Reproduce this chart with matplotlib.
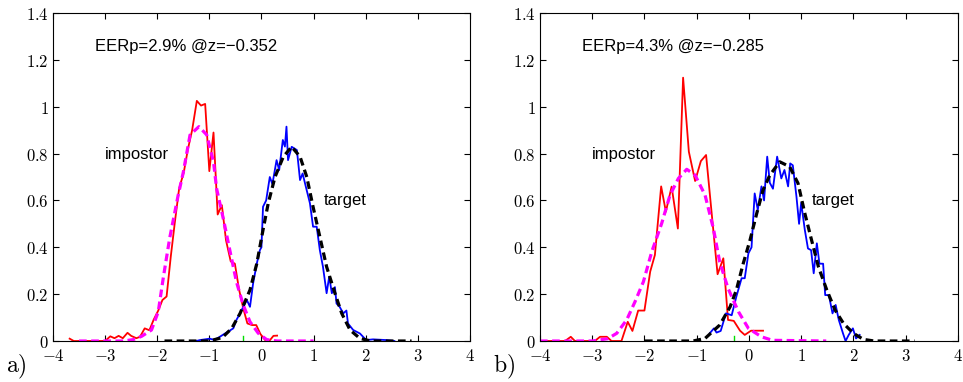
import matplotlib
matplotlib.use('Agg')
import matplotlib.pyplot as plt
from matplotlib.ticker import FuncFormatter

# ---- panel a) ----
A_IMP_X = [-3.68, -3.60, -3.0, -2.90, -2.82, -2.74, -2.66, -2.57, -2.50, -2.40, -2.33, -2.24, -2.15,
           -2.07, -1.98, -1.90, -1.82, -1.74, -1.66, -1.58, -1.49, -1.41, -1.33, -1.24, -1.16, -1.08,
           -1.00, -0.92, -0.84, -0.76, -0.68, -0.59, -0.51, -0.43, -0.35, -0.27, -0.18, -0.10, -0.02,
           0.07, 0.15, 0.23, 0.30]
A_IMP_Y = [0.01, 0, 0, 0.02, 0.012, 0.022, 0.012, 0.035, 0.022, 0.012, 0.018, 0.054, 0.046,
           0.09, 0.13, 0.175, 0.19, 0.36, 0.51, 0.65, 0.72, 0.82, 0.90, 1.025, 1.005, 1.012,
           0.725, 0.89, 0.54, 0.58, 0.43, 0.34, 0.33, 0.22, 0.14, 0.075, 0.068, 0.068, 0.03,
           0.004, 0.0, 0.022, 0.023]

A_IMPFIT_X = [-3.5, -3.0, -2.65, -2.46, -2.3, -2.11, -1.98, -1.88, -1.76, -1.6, -1.5, -1.37, -1.2,
              -1.05, -0.92, -0.86, -0.73, -0.6, -0.48, -0.35, -0.22, -0.06, 0.1, 0.3, 1.0]
A_IMPFIT_Y = [0, 0, 0, 0.006, 0.02, 0.047, 0.125, 0.275, 0.44, 0.62, 0.72, 0.88, 0.915,
              0.88, 0.765, 0.65, 0.52, 0.38, 0.253, 0.154, 0.082, 0.033, 0.006, 0, 0]

A_TAR_X = [-1.25, -1.18, -0.99, -0.90, -0.80, -0.70, -0.64, -0.54, -0.48, -0.41, -0.35, -0.28, -0.22,
           -0.16, -0.09, -0.03, 0.0, 0.03, 0.09, 0.16, 0.21, 0.29, 0.34, 0.41, 0.45, 0.48, 0.51,
           0.58, 0.68, 0.74, 0.79, 0.85, 0.93, 0.99, 1.06, 1.12, 1.18, 1.25, 1.30, 1.35, 1.41,
           1.44, 1.50, 1.57, 1.63, 1.66, 1.76, 1.89, 1.95, 2.01, 2.14, 2.40, 2.55]
A_TAR_Y = [0, 0.004, 0.01, 0.004, 0.018, 0.032, 0.04, 0.054, 0.09, 0.118, 0.146, 0.175, 0.146,
           0.246, 0.33, 0.388, 0.40, 0.573, 0.60, 0.70, 0.67, 0.772, 0.73, 0.858, 0.83, 0.915, 0.772,
           0.829, 0.815, 0.687, 0.715, 0.66, 0.588, 0.488, 0.488, 0.388, 0.317, 0.204, 0.275, 0.204, 0.23,
           0.16, 0.146, 0.118, 0.13, 0.075, 0.047, 0.032, 0.018, 0.004, 0.007, 0.004, 0]

A_TARFIT_X = [-1.86, -1.0, -0.75, -0.57, -0.41, -0.22, -0.09, 0.03, 0.13, 0.26, 0.42, 0.58, 0.74,
              0.87, 0.99, 1.12, 1.25, 1.41, 1.54, 1.70, 1.89, 2.1, 2.88]
A_TARFIT_Y = [0, 0, 0.015, 0.054, 0.118, 0.218, 0.33, 0.474, 0.588, 0.70, 0.787, 0.829, 0.787,
              0.70, 0.573, 0.445, 0.317, 0.204, 0.118, 0.047, 0.011, 0, 0]

# ---- panel b) ----
B_IMP_X = [-4.0, -3.52, -3.41, -3.33, -2.95, -2.85, -2.72, -2.63, -2.44, -2.32, -2.23, -2.12, -2.0,
           -1.89, -1.80, -1.68, -1.59, -1.48, -1.36, -1.26, -1.15, -1.03, -0.92, -0.82, -0.71,
           -0.60, -0.49, -0.40, -0.29, -0.17, -0.08, 0.04, 0.27]
B_IMP_Y = [0, 0, 0.018, 0, 0, 0.018, 0.018, 0, 0, 0.082, 0.043, 0.13, 0.13,
           0.296, 0.367, 0.66, 0.552, 0.659, 0.48, 1.124, 0.808, 0.683, 0.768, 0.794, 0.538,
           0.285, 0.353, 0.09, 0.086, 0.044, 0.026, 0.044, 0.044]

B_IMPFIT_X = [-4.0, -3.0, -2.7, -2.53, -2.34, -2.18, -2.02, -1.86, -1.67, -1.51, -1.35, -1.19, -1.03,
              -0.84, -0.68, -0.56, -0.40, -0.20, -0.01, 0.24, 0.45, 1.48]
B_IMPFIT_Y = [0, 0, 0.01, 0.033, 0.09, 0.168, 0.253, 0.381, 0.502, 0.623, 0.694, 0.733, 0.708,
              0.623, 0.48, 0.338, 0.225, 0.125, 0.054, 0.018, 0.003, 0]

B_TAR_X = [-0.75, -0.67, -0.62, -0.54, -0.44, -0.33, -0.24, -0.14, -0.08, -0.01, 0.05, 0.11, 0.17,
           0.24, 0.29, 0.35, 0.40, 0.46, 0.54, 0.62, 0.68, 0.75, 0.79, 0.84, 0.91, 0.96, 1.0,
           1.07, 1.13, 1.19, 1.24, 1.30, 1.35, 1.42, 1.46, 1.53, 1.60, 1.66, 1.72, 1.80, 1.85,
           1.91, 1.99, 2.05, 2.12]
B_TAR_Y = [0.033, 0.054, 0.036, 0.043, 0.118, 0.11, 0.19, 0.268, 0.268, 0.374, 0.40, 0.63, 0.56,
           0.66, 0.60, 0.787, 0.675, 0.65, 0.787, 0.694, 0.73, 0.66, 0.758, 0.75, 0.616, 0.50, 0.59,
           0.474, 0.395, 0.388, 0.289, 0.417, 0.33, 0.33, 0.196, 0.196, 0.118, 0.154, 0.09, 0.033, 0,
           0.026, 0.054, 0.011, 0.026]

B_TARFIT_X = [-1.99, -1.07, -0.84, -0.56, -0.36, -0.24, -0.11, 0.02, 0.15, 0.27, 0.40, 0.59, 0.78,
              0.94, 1.07, 1.20, 1.33, 1.49, 1.65, 1.81, 2.0, 2.19, 2.4, 3.17]
B_TARFIT_Y = [0, 0, 0.011, 0.068, 0.146, 0.218, 0.33, 0.43, 0.545, 0.644, 0.708, 0.765, 0.744,
              0.673, 0.545, 0.43, 0.317, 0.218, 0.132, 0.075, 0.033, 0.007, 0, 0]

EER_TEXT = ['EERp=2.9% @z=\u22120.352', 'EERp=4.3% @z=\u22120.285']
EER_Z = [-0.352, -0.285]
PANEL_LABELS = ['a)', 'b)']

X_TICKS = [-4, -3, -2, -1, 0, 1, 2, 3, 4]
Y_TICKS = [0, 0.2, 0.4, 0.6, 0.8, 1, 1.2, 1.4]

plt.rcParams['mathtext.fontset'] = 'cm'
SANS = 'Liberation Sans'


def tick_fmt(v, pos):
    return r'$%g$' % v


def draw_panel(ax, imp, impfit, tar, tarfit, eer_text, eer_z):
    # histograms first, fitted curves drawn on top (as in the original)
    ax.plot(imp[0], imp[1], color='#ff0000', lw=1.3)
    ax.plot(tar[0], tar[1], color='#0000ff', lw=1.3)
    ax.plot(impfit[0], impfit[1], color='#ff00ff', lw=2.3, dashes=(2.4, 1.4))
    ax.plot(tarfit[0], tarfit[1], color='black', lw=2.3, dashes=(2.4, 1.4))
    ax.plot([eer_z, eer_z], [0, 0.022], color='#00dd00', lw=1.0)

    ax.text(-3.2, 1.24, eer_text, family=SANS, fontsize=12)
    ax.text(-3.0, 0.775, 'impostor', family=SANS, fontsize=12)
    ax.text(1.2, 0.58, 'target', family=SANS, fontsize=12)

    ax.set_xlim(-4, 4)
    ax.set_ylim(0, 1.4)
    ax.set_xticks(X_TICKS)
    ax.set_yticks(Y_TICKS)
    ax.xaxis.set_major_formatter(FuncFormatter(tick_fmt))
    ax.yaxis.set_major_formatter(FuncFormatter(tick_fmt))
    ax.tick_params(direction='in', top=True, right=True, length=4, width=0.8,
                   labelsize=12)
    ax.tick_params(axis='x', pad=4)
    ax.tick_params(axis='y', pad=3)
    for s in ax.spines.values():
        s.set_linewidth(0.8)


def main():
    fig = plt.figure(figsize=(9.63, 3.82), dpi=100)
    ax1 = fig.add_axes([0.055, 0.1073, 0.433, 0.8586])
    ax2 = fig.add_axes([0.5607, 0.1073, 0.434, 0.8586])

    draw_panel(ax1, (A_IMP_X, A_IMP_Y), (A_IMPFIT_X, A_IMPFIT_Y),
               (A_TAR_X, A_TAR_Y), (A_TARFIT_X, A_TARFIT_Y), EER_TEXT[0], EER_Z[0])
    draw_panel(ax2, (B_IMP_X, B_IMP_Y), (B_IMPFIT_X, B_IMPFIT_Y),
               (B_TAR_X, B_TAR_Y), (B_TARFIT_X, B_TARFIT_Y), EER_TEXT[1], EER_Z[1])

    fig.text(6 / 963, 0.025, r'$\mathrm{%s}$' % PANEL_LABELS[0], fontsize=17)
    fig.text(493 / 963, 0.025, r'$\mathrm{%s}$' % PANEL_LABELS[1], fontsize=17)

    fig.savefig('out.png', dpi=100)


if __name__ == '__main__':
    main()
